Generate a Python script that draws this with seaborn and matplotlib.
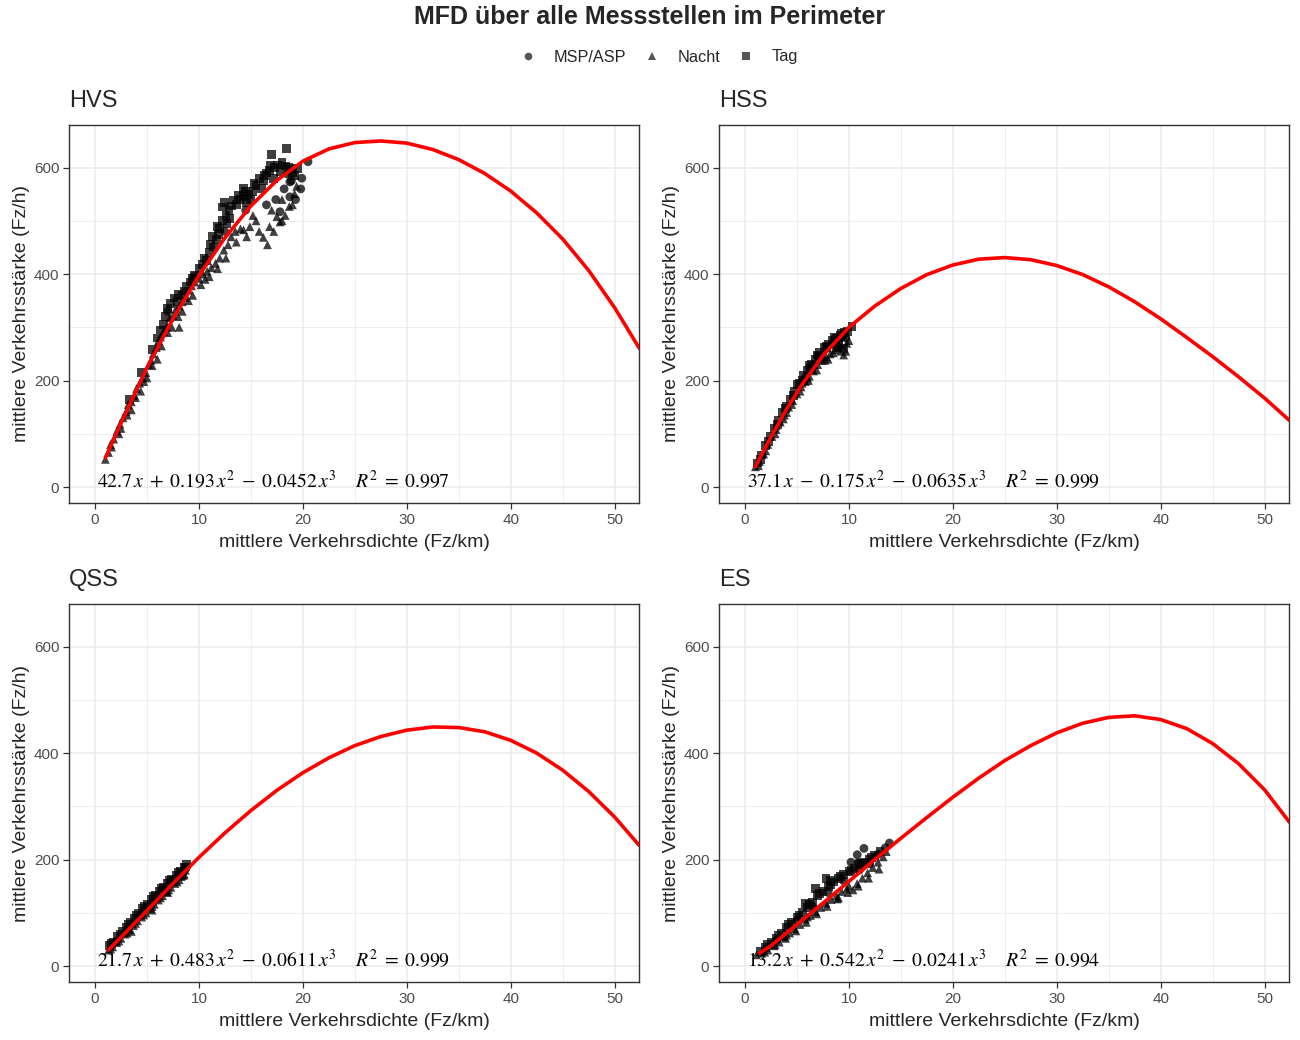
import matplotlib
matplotlib.use("Agg")
import matplotlib.pyplot as plt
from matplotlib.lines import Line2D
import seaborn as sns
import pandas as pd

# ---------------- data ----------------
panels = ["HVS", "HSS", "QSS", "ES"]
types = ["MSP/ASP", "Nacht", "Tag"]

equations = {
    "HVS": r"$42.7\,x\;+\;0.193\,x^2\;-\;0.0452\,x^3\quad\ R^2\;=\;0.997$",
    "HSS": r"$37.1\,x\;-\;0.175\,x^2\;-\;0.0635\,x^3\quad\ R^2\;=\;0.999$",
    "QSS": r"$21.7\,x\;+\;0.483\,x^2\;-\;0.0611\,x^3\quad\ R^2\;=\;0.999$",
    "ES": r"$13.2\,x\;+\;0.542\,x^2\;-\;0.0241\,x^3\quad\ R^2\;=\;0.994$",
}

# fitted curves
hvs_curve_x = [1.0, 2.5, 5, 7.5, 10, 12.5, 15, 17.5, 20, 22.5, 25, 27.5, 30, 32.5, 35, 37.5, 40, 42.5, 45, 47.5, 50, 52.4]
hvs_curve_y = [55, 120, 224, 316, 397, 468, 528, 576, 612, 635, 647, 650, 646, 634, 615, 589, 556, 515, 466, 407, 337, 260]
hss_curve_x = [1.0, 2.5, 4, 5.5, 7.5, 10, 12.5, 15, 17.5, 20, 22.5, 25, 27.5, 30, 32.5, 35, 37.5, 40, 42.5, 45, 47.5, 50, 52.4]
hss_curve_y = [38, 94, 146, 193, 247, 300, 340, 373, 399, 417, 428, 431, 427, 416, 399, 376, 348, 316, 281, 245, 207, 167, 125]
qss_curve_x = [1.3, 2.5, 5, 7.5, 10, 12.5, 15, 17.5, 20, 22.5, 25, 27.5, 30, 32.5, 35, 37.5, 40, 42.5, 45, 47.5, 50, 52.4]
qss_curve_y = [30, 54, 104, 155, 204, 250, 292, 330, 363, 391, 414, 431, 443, 449, 448, 440, 424, 400, 368, 328, 280, 226]
es_curve_x = [1.4, 2.5, 5, 7.5, 10, 12.5, 15, 17.5, 20, 22.5, 25, 27.5, 30, 32.5, 35, 37.5, 40, 42.5, 45, 47.5, 50, 52.4]
es_curve_y = [24, 38, 78, 118, 159, 200, 240, 279, 317, 353, 386, 414, 438, 456, 467, 470, 463, 446, 418, 380, 331, 270]

hvs_msp_x = [17.8, 18.75, 19.3, 19.8, 18.2, 17.4, 20.5, 19.9, 18.9, 16.5, 9.5, 7.0, 12.5, 14.5, 19.0, 18.5, 18.75]
hvs_msp_y = [517, 545, 540, 560, 560, 540, 611, 580, 575, 530, 395, 330, 480, 520, 598, 588, 573]
hvs_nacht_x = [1.0, 1.3, 1.5, 1.8, 2.1, 2.4, 2.7, 3.0, 3.2, 3.5, 3.8, 4.0, 4.3, 4.6, 4.9, 5.2, 5.4, 5.6, 5.9, 6.1, 6.3, 6.6, 6.9, 7.2, 7.5, 7.8, 8.1, 8.4, 8.7, 9.0, 9.3, 9.6, 10.0, 10.4, 10.8, 11.2, 11.6, 12.0, 12.4, 12.8, 13.1, 13.5, 14.0, 14.3, 14.9, 15.5, 16.2, 16.8, 17.5, 17.8, 18.3, 18.0, 19.2, 19.4, 18.7, 17.0, 15.2, 6.0, 5.0, 7.0, 8.0, 9.0, 10.2, 11.0, 4.4, 3.5, 2.5, 8.1,
               1.6, 2.3, 3.1, 3.9, 4.7, 5.5, 6.4, 7.4, 8.4, 9.4, 10.6, 11.8, 12.6, 13.6, 14.6, 15.8, 16.6, 17.2, 18.0, 19.0]
hvs_nacht_y = [52, 65, 80, 90, 105, 118, 130, 142, 155, 160, 172, 185, 195, 205, 215, 230, 238, 250, 262, 275, 282, 292, 300, 318, 322, 335, 340, 348, 356, 370, 378, 385, 392, 400, 405, 412, 420, 430, 445, 455, 470, 480, 485, 483, 489, 500, 469, 489, 508, 498, 510, 540, 551, 565, 527, 520, 510, 240, 205, 290, 320, 350, 380, 395, 180, 145, 110, 300,
               75, 100, 135, 168, 198, 228, 265, 300, 330, 360, 390, 410, 430, 460, 470, 480, 455, 480, 500, 530]
hvs_tag_x = [3.3, 4.5, 5.5, 6.3, 6.8, 7.3, 7.6, 8.0, 8.4, 8.8, 9.2, 9.6, 10.0, 10.3, 10.7, 11.0, 11.4, 11.7, 12.0, 12.3, 12.3, 12.6, 12.9, 13.3, 13.6, 14.0, 14.3, 14.3, 14.8, 15.2, 15.5, 15.8, 16.2, 16.5, 16.8, 17.0, 17.3, 17.6, 18.0, 18.4, 18.6, 19.0, 19.5, 13.0, 11.8, 14.6, 15.0, 16.0, 17.2, 12.7, 11.3,
             6.0, 6.6, 7.0, 7.9, 8.6, 9.4, 10.5, 11.1, 11.9, 12.5, 13.1, 13.8, 14.5, 15.3, 16.3, 16.9, 17.8, 18.3, 19.2]
hvs_tag_y = [165, 215, 258, 295, 320, 345, 355, 362, 360, 376, 385, 398, 410, 418, 426, 440, 451, 465, 485, 501, 526, 510, 520, 539, 530, 540, 545, 561, 550, 555, 567, 579, 575, 590, 595, 625, 600, 605, 610, 636, 600, 590, 598, 505, 490, 535, 540, 560, 580, 495, 470,
             280, 305, 335, 348, 368, 392, 430, 455, 475, 535, 528, 548, 555, 570, 585, 605, 592, 603, 585]

hss_msp_x = [8.5, 9.0, 9.4, 7.2, 6.5, 9.7, 8.9, 5.8]
hss_msp_y = [270, 278, 282, 240, 225, 280, 262, 205]
hss_nacht_x = [1.0, 1.4, 1.8, 2.2, 2.6, 3.0, 3.4, 3.8, 4.2, 4.6, 5.0, 5.4, 5.8, 6.2, 6.6, 7.0, 7.4, 7.8, 8.2, 8.6, 9.0, 9.5, 9.8, 4.0, 6.0, 8.0, 9.2, 3.0, 5.5, 7.5,
               1.3, 2.0, 2.9, 3.7, 4.5, 5.3, 6.1, 6.9, 7.7, 8.5, 9.3, 9.7, 10.0]
hss_nacht_y = [38, 48, 62, 80, 95, 108, 122, 135, 150, 162, 175, 188, 198, 208, 218, 230, 238, 245, 250, 258, 262, 248, 270, 140, 205, 240, 255, 115, 195, 245,
               40, 68, 100, 128, 155, 180, 200, 220, 238, 252, 265, 255, 275]
hss_tag_x = [1.2, 1.6, 2.0, 2.4, 2.8, 3.2, 3.6, 4.0, 4.4, 4.8, 5.2, 5.6, 6.0, 6.4, 6.8, 7.2, 7.6, 8.0, 8.4, 8.8, 9.2, 9.6, 10.3, 5.0, 6.2, 7.0, 7.8, 8.6, 9.0, 9.5,
             1.5, 2.3, 3.1, 3.9, 4.7, 5.5, 6.3, 7.1, 7.9, 8.7, 9.3, 9.9]
hss_tag_y = [45, 60, 78, 95, 110, 125, 140, 152, 165, 180, 195, 210, 220, 230, 240, 252, 262, 268, 275, 280, 285, 290, 301, 192, 228, 248, 265, 282, 270, 260,
             52, 85, 118, 147, 172, 200, 222, 245, 262, 276, 288, 292]

qss_msp_x = [2.0, 3.2, 4.4, 5.6, 6.8, 8.0, 8.5, 7.5]
qss_msp_y = [46, 70, 95, 120, 145, 168, 177, 160]
qss_nacht_x = [1.3, 1.7, 2.1, 2.5, 2.9, 3.3, 3.7, 4.1, 4.5, 4.9, 5.3, 5.7, 6.1, 6.5, 6.9, 7.3, 7.7, 8.1, 8.5, 8.7, 3.5, 5.5, 7.0, 8.3,
               1.5, 2.3, 3.1, 3.9, 4.7, 5.5, 6.3, 7.1, 7.9, 8.6]
qss_nacht_y = [30, 36, 44, 52, 60, 68, 76, 85, 92, 100, 108, 116, 124, 132, 140, 148, 155, 162, 170, 180, 65, 105, 138, 168,
               32, 47, 62, 80, 96, 112, 128, 143, 158, 172]
qss_tag_x = [1.4, 1.8, 2.2, 2.6, 3.0, 3.4, 3.8, 4.2, 4.6, 5.0, 5.4, 5.8, 6.2, 6.6, 7.0, 7.4, 7.8, 8.2, 8.6, 8.8,
             1.6, 2.4, 3.2, 4.0, 4.8, 5.6, 6.4, 7.2, 8.0, 8.7]
qss_tag_y = [38, 45, 55, 65, 72, 82, 90, 98, 108, 116, 125, 133, 140, 148, 155, 163, 170, 178, 185, 190,
             42, 60, 78, 96, 112, 130, 146, 160, 175, 186]

es_msp_x = [10.8, 11.45, 10.9, 10.2, 13.9, 13.5, 12.0, 9.5, 8.0, 6.5, 5.0, 3.0, 11.0, 12.8]
es_msp_y = [209, 221, 194, 195, 231, 222, 192, 160, 138, 112, 85, 48, 180, 210]
es_nacht_x = [1.1, 1.6, 2.2, 2.8, 3.3, 3.8, 4.3, 4.8, 5.3, 5.8, 6.3, 6.8, 7.3, 7.8, 8.3, 8.8, 9.3, 9.8, 10.4, 10.8, 11.3, 11.8, 12.3, 12.8, 13.3, 4.0, 6.0, 9.0, 10.0,
              1.9, 2.9, 3.9, 4.9, 5.9, 6.9, 7.9, 8.9, 9.9, 10.9, 11.9, 12.9, 13.6]
es_nacht_y = [21, 24, 30, 38, 45, 55, 62, 70, 78, 88, 95, 102, 110, 118, 125, 132, 140, 145, 143, 155, 165, 175, 185, 195, 205, 58, 92, 128, 150,
              26, 40, 52, 66, 82, 98, 112, 126, 138, 150, 165, 182, 215]
es_tag_x = [1.5, 2.0, 2.5, 3.0, 3.5, 4.0, 4.5, 5.0, 5.5, 6.0, 6.5, 7.0, 7.5, 8.0, 8.5, 9.0, 9.5, 10.0, 10.5, 11.0, 11.5, 12.0, 12.5, 13.0, 6.8, 7.8, 8.2, 5.8,
            2.2, 3.2, 4.2, 5.2, 6.2, 7.2, 8.2, 9.2, 10.2, 11.2, 12.2]
es_tag_y = [28, 35, 45, 52, 62, 72, 82, 92, 100, 110, 120, 132, 140, 150, 158, 165, 172, 178, 183, 190, 195, 200, 208, 215, 145, 165, 160, 118,
            40, 58, 78, 96, 116, 136, 152, 168, 180, 192, 204]

# ---------------- tables ----------------
raw = {
    "HVS": (hvs_curve_x, hvs_curve_y, [(hvs_msp_x, hvs_msp_y), (hvs_nacht_x, hvs_nacht_y), (hvs_tag_x, hvs_tag_y)]),
    "HSS": (hss_curve_x, hss_curve_y, [(hss_msp_x, hss_msp_y), (hss_nacht_x, hss_nacht_y), (hss_tag_x, hss_tag_y)]),
    "QSS": (qss_curve_x, qss_curve_y, [(qss_msp_x, qss_msp_y), (qss_nacht_x, qss_nacht_y), (qss_tag_x, qss_tag_y)]),
    "ES": (es_curve_x, es_curve_y, [(es_msp_x, es_msp_y), (es_nacht_x, es_nacht_y), (es_tag_x, es_tag_y)]),
}

sns.set_theme(style="white")
plt.rcParams["font.family"] = ["Liberation Sans", "DejaVu Sans"]
plt.rcParams["mathtext.fontset"] = "stix"

W, H = 1300, 1040
fig = plt.figure(figsize=(13, 10.4), dpi=100)

boxes = {"HVS": (69, 125), "HSS": (719, 125), "QSS": (69, 604), "ES": (719, 604)}
pw, ph = 570, 378
markers = {"MSP/ASP": "o", "Nacht": "^", "Tag": "s"}

for name in panels:
    left, top = boxes[name]
    ax = fig.add_axes([left / W, (H - top - ph) / H, pw / W, ph / H])
    cx, cy, pts = raw[name]
    rows = []
    for t, (xs, ys) in zip(types, pts):
        for a, b in zip(xs, ys):
            rows.append({"dichte": a, "staerke": b, "Typ": t})
    df = pd.DataFrame(rows)
    curve = pd.DataFrame({"dichte": cx, "staerke": cy})

    ax.text(0.2, 12, equations[name], fontsize=14.2, ha="left", va="center",
            color="black", zorder=2)
    sns.scatterplot(data=df, x="dichte", y="staerke", style="Typ", markers=markers,
                    style_order=types, color="black", alpha=0.75, s=40,
                    linewidth=0, legend=False, ax=ax, zorder=3)
    sns.lineplot(data=curve, x="dichte", y="staerke", color="#FF0000", lw=2.6,
                 estimator=None, sort=False, ax=ax, zorder=4)

    ax.set_xlim(-2.5, 52.35)
    ax.set_ylim(-30, 680)
    ax.set_xticks([0, 10, 20, 30, 40, 50])
    ax.set_xticks([5, 15, 25, 35, 45], minor=True)
    ax.set_yticks([0, 200, 400, 600])
    ax.set_yticks([100, 300, 500], minor=True)
    ax.grid(which="major", color="#EBEBEB", lw=1.1)
    ax.grid(which="minor", color="#EBEBEB", lw=0.6)
    ax.set_axisbelow(True)
    for sp in ax.spines.values():
        sp.set_color("#333333")
        sp.set_linewidth(1.0)
    ax.tick_params(which="major", length=4, width=0.9, color="#333333",
                   labelcolor="#4D4D4D", labelsize=11, pad=3,
                   bottom=True, left=True)
    ax.tick_params(which="minor", length=0)
    ax.set_xlabel("mittlere Verkehrsdichte (Fz/km)", fontsize=14, labelpad=5.5)
    ax.set_ylabel("mittlere Verkehrsstärke (Fz/h)", fontsize=14, labelpad=3)
    fig.text(left / W, 1 - (top - 24) / H, name, fontsize=17, ha="left", va="center")

fig.text(0.5, 1 - 17 / H, "MFD über alle Messstellen im Perimeter", fontsize=18,
         fontweight="bold", ha="center", va="center")

handles = [Line2D([0], [0], marker=markers[t], color="none", markerfacecolor="#555555",
                  markeredgewidth=0, markersize=5.5, label=t) for t in types]
fig.legend(handles=handles, loc="center", bbox_to_anchor=(0.5 + 8 / W, 1 - 57 / H), ncol=3,
           frameon=False, fontsize=11.7, handlelength=1.2, handletextpad=1.0,
           columnspacing=0.95)

fig.savefig("out.png", dpi=100, facecolor="white")
